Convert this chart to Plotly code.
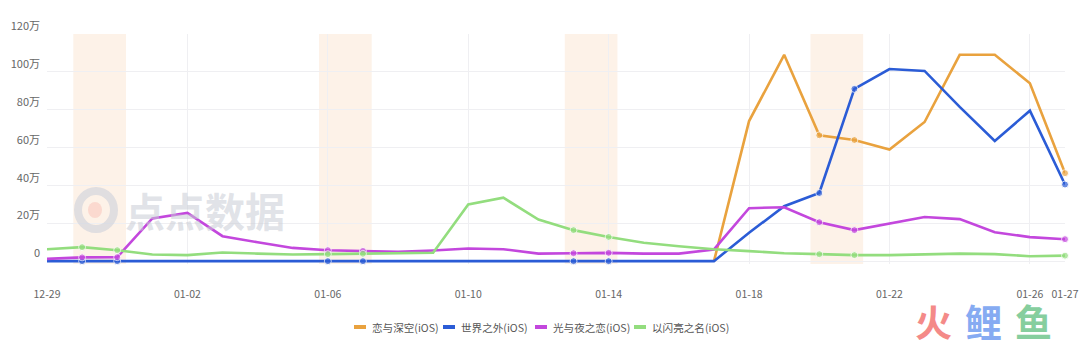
import plotly.graph_objects as go

# ---------------- data ----------------
dates = ["12-29", "12-30", "12-31", "01-01", "01-02", "01-03", "01-04", "01-05",
         "01-06", "01-07", "01-08", "01-09", "01-10", "01-11", "01-12", "01-13",
         "01-14", "01-15", "01-16", "01-17", "01-18", "01-19", "01-20", "01-21",
         "01-22", "01-23", "01-24", "01-25", "01-26", "01-27"]

weekend_dates = ["12-30", "12-31", "01-06", "01-07", "01-13", "01-14", "01-20", "01-21"]

tick_dates = ["12-29", "01-02", "01-06", "01-10", "01-14", "01-18", "01-22", "01-26", "01-27"]

series_names = ["恋与深空(iOS)", "世界之外(iOS)", "光与夜之恋(iOS)", "以闪亮之名(iOS)"]

# values in 万
lianyu = [None] * 19 + [0, 74, 109, 66.5, 64, 59, 73.5, 109, 109, 94, 46.5]
shijie = [0] * 20 + [15, 29, 36, 91, 101.5, 100.5, 81.5, 63.5, 79.5, 40.5]
guangye = [1.2, 2, 2.1, 22.6, 25.5, 13.2, 10, 7, 5.8, 5.4, 4.9, 5.6, 6.7, 6.3, 4,
           4.2, 4.4, 4, 4, 6.2, 28, 28.5, 20.6, 16.4, 20, 23.3, 22.2, 15.3, 12.7, 11.6]
shanliang = [6.3, 7.4, 5.8, 3.5, 3.2, 4.6, 4, 3.5, 3.7, 3.9, 4, 4.4, 30, 33.5, 22,
             16.4, 12.8, 9.7, 7.9, 6.3, 5.3, 4.2, 3.7, 3.2, 3.2, 3.7, 4, 3.7, 2.6, 2.9]

y_ticks = [0, 20, 40, 60, 80, 100, 120]

# ---------------- style ----------------
colors = ["#E9A23E", "#2B5CD6", "#C347DD", "#93DD7E"]
FONT = "Noto Sans CJK SC, sans-serif"

W, H = 1080, 347
L, R, T, B = 47, 15, 34, 83


def px_x(px):
    return (px - L) / (W - L - R)


def px_y(py):
    return (H - B - py) / (H - T - B)


x_idx = list(range(len(dates)))
last = len(dates) - 1
marker_sizes = [7 if (d in weekend_dates or i == last) else 0 for i, d in enumerate(dates)]

fig = go.Figure()

for name, vals, col in zip(series_names, [lianyu, shijie, guangye, shanliang], colors):
    fig.add_trace(go.Scatter(
        x=x_idx, y=vals, mode="lines+markers", name=name,
        line=dict(color=col, width=2.6),
        marker=dict(size=marker_sizes, color=col),
        cliponaxis=False, showlegend=False, hoverinfo="skip",
    ))

# legend (drawn manually to get the compact swatch layout)
legend_text_x = [370, 459, 551, 650]
for name, col, tx in zip(series_names, colors, legend_text_x):
    fig.add_shape(type="rect", xref="paper", yref="paper",
                  x0=px_x(tx - 16), x1=px_x(tx - 4), y0=px_y(329), y1=px_y(325),
                  fillcolor=col, line_width=0)
    fig.add_annotation(xref="paper", yref="paper", x=px_x(tx), y=px_y(327),
                       xanchor="left", yanchor="middle", text=name, showarrow=False,
                       font=dict(family=FONT, size=10.6, color="#555"))

# weekend bands
for d in weekend_dates[::2]:
    i = dates.index(d)
    fig.add_shape(type="rect", xref="x", yref="paper", x0=i - 0.25, x1=i + 1.25,
                  y0=0, y1=1, fillcolor="#FDF2E8", line_width=0, layer="below")

# watermark logo
fig.add_shape(type="circle", xref="paper", yref="paper",
              x0=px_x(78), x1=px_x(114), y0=px_y(229), y1=px_y(191),
              line=dict(color="rgba(205,209,218,0.6)", width=8), fillcolor="rgba(0,0,0,0)",
              layer="above")
fig.add_shape(type="circle", xref="paper", yref="paper",
              x0=px_x(88), x1=px_x(102), y0=px_y(218), y1=px_y(202),
              line_width=0, fillcolor="rgba(250,200,190,0.6)", layer="above")
fig.add_annotation(xref="paper", yref="paper", x=px_x(205), y=px_y(210),
                   xanchor="center", yanchor="middle",
                   text="<b>点点数据</b>", showarrow=False,
                   font=dict(family=FONT, size=40, color="rgba(200,204,212,0.55)"))

# bottom-right brand
for ch, cx, col in [("火", 933, "#F48A88"), ("鲤", 983, "#86ABF2"), ("鱼", 1033, "#86CE9E")]:
    fig.add_annotation(xref="paper", yref="paper", x=px_x(cx), y=px_y(321),
                       xanchor="center", yanchor="middle",
                       text="<b>" + ch + "</b>", showarrow=False,
                       font=dict(family=FONT, size=37, color=col))

fig.update_layout(
    width=W, height=H,
    margin=dict(l=L, r=R, t=T, b=B, autoexpand=False),
    paper_bgcolor="white", plot_bgcolor="white",
    font=dict(family=FONT, size=11, color="#666"),
    showlegend=False,
    xaxis=dict(range=[0, last], tickmode="array",
               tickvals=[dates.index(d) for d in tick_dates], ticktext=tick_dates,
               showgrid=True, gridcolor="#EFEFF2", gridwidth=1,
               zeroline=False, showline=False, ticks="",
               ticklabelstandoff=22, tickfont=dict(size=10.5, color="#666")),
    yaxis=dict(range=[-1.5, 120], tickmode="array", tickvals=y_ticks,
               ticktext=["0" if v == 0 else f"{v}万" for v in y_ticks],
               showgrid=True, gridcolor="#EFEFF2", gridwidth=1,
               zeroline=False, showline=False, ticks="",
               ticklabelposition="outside top", ticklabelstandoff=6,
               tickfont=dict(size=11, color="#666")),
)

fig.write_html("out.html")
